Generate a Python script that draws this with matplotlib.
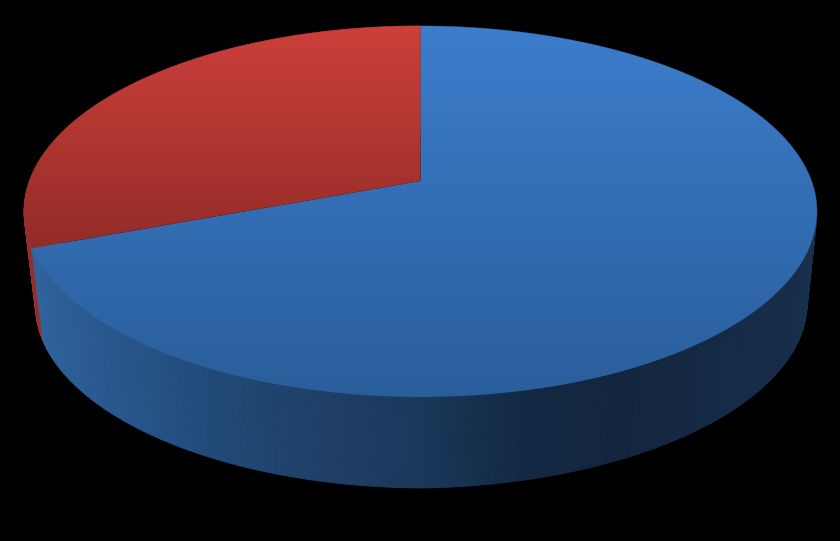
import numpy as np
import matplotlib
matplotlib.use("Agg")
import matplotlib.pyplot as plt
from matplotlib.patches import PathPatch
from matplotlib.path import Path
from matplotlib.collections import PolyCollection
from matplotlib.colors import LinearSegmentedColormap

# Data
labels = ["Blue", "Red"]
values = [69.3, 30.7]

blue_top = ["#3c7dcc", "#2a5e9b"]
red_top = ["#cd3f3a", "#932c28"]
blue_side_x = [38, 200, 320, 420, 520, 620, 805]
blue_side = ["#30649f", "#234c7c", "#1f4068", "#1b385c", "#132943", "#13263e", "#182f4d"]
red_side_color = "#93302c"

fig = plt.figure(figsize=(8.4, 5.41), dpi=100, facecolor="black")
ax = fig.add_axes([0, 0, 1, 1])
ax.set_xlim(0, 840)
ax.set_ylim(541, 0)
ax.axis("off")

# Perspective projection of the pie disc
CX, CY, A, B, K = 420.5, 181.0, 391.0, 180.5, 0.1644


def rim(theta):
    """Clockwise-from-top angle (rad) to a point on the top rim."""
    X, Y = np.sin(theta), -np.cos(theta)
    d = 1 - K * Y
    return CX + A * X / d, CY + B * Y / d


def lower(x, y):
    dx = x - 420.5
    lx = 420.5 + dx * np.where(dx > 0, 0.975, 0.971)
    ly = 308.0 + (y - 211.5) * 0.97
    ly = ly - 0.012 * np.maximum(dx, 0) - 0.006 * np.maximum(-dx, 0)
    return lx, ly


def hex2rgb(c):
    return np.array(matplotlib.colors.to_rgb(c))


side_rgb = np.array([hex2rgb(c) for c in blue_side])
fractions = np.cumsum([0] + values) / sum(values) * 2 * np.pi

# Side walls
for i in [1, 0]:
    t = np.linspace(fractions[i], fractions[i + 1], 500)
    x, y = rim(t)
    lx, ly = lower(x, y)
    quads, cols = [], []
    for j in range(len(t) - 1):
        quads.append([(x[j], y[j]), (x[j + 1], y[j + 1]), (lx[j + 1], ly[j + 1]), (lx[j], ly[j])])
        xm = (lx[j] + lx[j + 1]) / 2
        if i == 0:
            cols.append([np.interp(xm, blue_side_x, side_rgb[:, k]) for k in range(3)])
        else:
            cols.append(hex2rgb(red_side_color))
    ax.add_collection(PolyCollection(quads, facecolors=cols, edgecolors=cols, linewidths=0.6, zorder=1))

# Top faces
for i, cols in [(1, red_top), (0, blue_top)]:
    t = np.linspace(fractions[i], fractions[i + 1], 500)
    x, y = rim(t)
    verts = np.vstack([[CX, CY], np.column_stack([x, y]), [CX, CY]])
    codes = [Path.MOVETO] + [Path.LINETO] * (len(verts) - 2) + [Path.CLOSEPOLY]
    patch = PathPatch(Path(verts, codes), facecolor="none", edgecolor="none", transform=ax.transData)
    ax.add_patch(patch)
    y0, y1 = y.min(), y.max()
    if i == 1:
        y1 = y[0]
    cmap = LinearSegmentedColormap.from_list("g", cols)
    im = ax.imshow(np.linspace(0, 1, 256)[:, None], cmap=cmap, extent=(0, 840, y1, y0),
                   aspect="auto", zorder=2 + i * 0.1, interpolation="bilinear")
    im.set_clip_path(patch)

ax.set_xlim(0, 840)
ax.set_ylim(541, 0)
fig.savefig("out.png", dpi=100, facecolor="black")
